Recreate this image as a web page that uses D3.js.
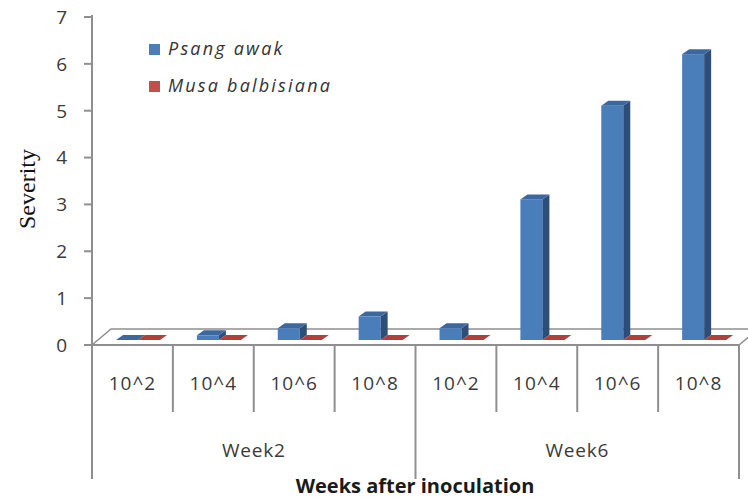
<!DOCTYPE html>
<html>
<head>
<meta charset="utf-8">
<script src="https://cdn.jsdelivr.net/npm/d3@7"></script>
<style>
  html, body { margin: 0; padding: 0; background: #fff; }
  svg { display: block; }
  text { font-family: "Open Sans", "Liberation Sans", sans-serif; }
</style>
</head>
<body>
<svg id="chart" width="748" height="498"></svg>
<script>
// Inoculum dose per category, grouped by week
const categories = ["10^2", "10^4", "10^6", "10^8", "10^2", "10^4", "10^6", "10^8"];
const groups = ["Week2", "Week6"];
const groupSize = 4;

// Disease severity per cultivar
const psangAwak = [0, 0.1, 0.25, 0.5, 0.25, 3, 5, 6.1];
const musaBalbisiana = [0, 0, 0, 0, 0, 0, 0, 0];

const seriesNames = ["Psang awak", "Musa balbisiana"];
const yTicks = [0, 1, 2, 3, 4, 5, 6, 7];

const svg = d3.select("#chart");

const x = d3.scaleBand().domain(d3.range(categories.length)).range([92, 739]);
const y = d3.scaleLinear().domain([0, 7]).range([345, 17]);

// floor depth (front edge -> back edge)
const floorDx = 19, floorDy = 16;
// bars sit part-way into the floor
const barDepthShift = 5;
const barDx = 7, barDy = 5;

const axisColor = "#8f8f8f";
const textColor = "#3a3a3a";

const colors = {
  blue:  { front: "#4a7ebb", side: "#2d4e78", top: "#3d679f" },
  red:   { front: "#c0504d", side: "#7f2f2d", top: "#b33f3c" }
};

// ---- floor ----
const x0 = x.range()[0], x1 = x.range()[1], y0 = y(0);
svg.append("polygon")
  .attr("points", [[x0, y0], [x0 + floorDx, y0 - floorDy], [x1 + floorDx, y0 - floorDy], [x1, y0]].map(p => p.join(",")).join(" "))
  .attr("fill", "#fff")
  .attr("stroke", axisColor)
  .attr("stroke-width", 1.5);

// ---- bars ----
const bw = x.bandwidth();
const barW = bw * 0.272;
const offsets = [bw * 0.297, bw * 0.297 + barW];
const series = [
  { values: psangAwak, c: colors.blue },
  { values: musaBalbisiana, c: colors.red }
];

function drawBar(g, left, v, c) {
  const base = y(0) - barDepthShift;
  const top = y(v) - barDepthShift;
  const right = left + barW;
  if (top < base - 0.5) {
    g.append("rect")
      .attr("x", left).attr("y", top)
      .attr("width", barW).attr("height", base - top)
      .attr("fill", c.front);
    g.append("polygon")
      .attr("points", [[right, top], [right + barDx, top - barDy], [right + barDx, base - barDy], [right, base]].map(p => p.join(",")).join(" "))
      .attr("fill", c.side);
  }
  g.append("polygon")
    .attr("points", [[left, top], [left + barDx, top - barDy], [right + barDx, top - barDy], [right, top]].map(p => p.join(",")).join(" "))
    .attr("fill", c.top);
}

const barsG = svg.append("g");
categories.forEach((cat, i) => {
  series.forEach((s, si) => {
    drawBar(barsG, x(i) + offsets[si], s.values[i], s.c);
  });
});

// ---- value axis ----
svg.append("line")
  .attr("x1", x0).attr("x2", x0)
  .attr("y1", y(7) - 2).attr("y2", 478)
  .attr("stroke", axisColor).attr("stroke-width", 2);

svg.selectAll(".ytick")
  .data(yTicks)
  .join("line")
  .attr("x1", x0 - 8).attr("x2", x0)
  .attr("y1", d => y(d)).attr("y2", d => y(d))
  .attr("stroke", axisColor).attr("stroke-width", 2);

svg.selectAll(".ylabel")
  .data(yTicks)
  .join("text")
  .attr("x", 67)
  .attr("y", d => y(d))
  .attr("dy", "0.36em")
  .attr("text-anchor", "end")
  .attr("fill", textColor)
  .attr("font-size", 19)
  .text(d => d);

svg.append("text")
  .attr("transform", `translate(35,189) rotate(-90)`)
  .attr("text-anchor", "middle")
  .style("font-family", "'Liberation Serif', 'Times New Roman', serif")
  .attr("font-size", 24)
  .attr("fill", "#111")
  .text("Severity");

// ---- category axis ----
svg.append("line")
  .attr("x1", x0).attr("x2", x1)
  .attr("y1", y0).attr("y2", y0)
  .attr("stroke", axisColor).attr("stroke-width", 2);

const boundaries = d3.range(categories.length + 1).map(i => i < categories.length ? x(i) : x1);
svg.selectAll(".sep")
  .data(boundaries)
  .join("line")
  .attr("x1", d => d).attr("x2", d => d)
  .attr("y1", y0)
  .attr("y2", (d, i) => (i % groupSize === 0) ? 479 : 412)
  .attr("stroke", axisColor).attr("stroke-width", 2);

svg.selectAll(".xlabel")
  .data(categories)
  .join("text")
  .attr("x", (d, i) => x(i) + bw / 2)
  .attr("y", 390)
  .attr("text-anchor", "middle")
  .attr("fill", textColor)
  .attr("font-size", 19)
  .attr("letter-spacing", 1)
  .text(d => d);

svg.selectAll(".glabel")
  .data(groups)
  .join("text")
  .attr("x", (d, i) => (x(i * groupSize) + (i === groups.length - 1 ? x1 : x((i + 1) * groupSize))) / 2)
  .attr("y", 457)
  .attr("text-anchor", "middle")
  .attr("fill", textColor)
  .attr("font-size", 19)
  .attr("letter-spacing", 0.8)
  .text(d => d);

svg.append("text")
  .attr("x", 415)
  .attr("y", 493)
  .attr("text-anchor", "middle")
  .attr("fill", "#1a1a1a")
  .attr("font-size", 20)
  .attr("font-weight", "bold")
  .text("Weeks after inoculation");

// ---- legend ----
const legend = svg.append("g");
seriesNames.forEach((name, i) => {
  const ly = 49 + i * 37;
  legend.append("rect")
    .attr("x", 149).attr("y", ly - 5)
    .attr("width", 11).attr("height", 11)
    .attr("fill", i === 0 ? colors.blue.front : colors.red.front);
  legend.append("text")
    .attr("x", 168).attr("y", ly + 6)
    .attr("fill", "#333")
    .attr("font-size", 18)
    .attr("font-style", "italic")
    .attr("letter-spacing", 2.2)
    .text(name);
});
</script>
</body>
</html>
